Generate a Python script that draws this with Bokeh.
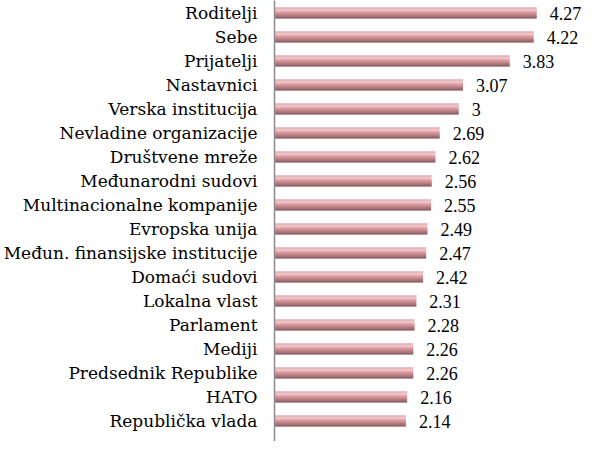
from bokeh.plotting import figure
from bokeh.models import ColumnDataSource, Range1d, LinearAxis, FixedTicker, LabelSet
from bokeh.transform import dodge
from bokeh.embed import file_html
from bokeh.resources import INLINE

categories = ["Roditelji", "Sebe", "Prijatelji", "Nastavnici", "Verska institucija",
              "Nevladine organizacije", "Društvene mreže", "Međunarodni sudovi",
              "Multinacionalne kompanije", "Evropska unija",
              "Međun. finansijske institucije", "Domaći sudovi", "Lokalna vlast",
              "Parlament", "Mediji", "Predsednik Republike", "HATO", "Republička vlada"]
values = [4.27, 4.22, 3.83, 3.07, 3.00, 2.69, 2.62, 2.56, 2.55, 2.49, 2.47, 2.42,
          2.31, 2.28, 2.26, 2.26, 2.16, 2.14]
value_labels = ["4.27", "4.22", "3.83", "3.07", "3", "2.69", "2.62", "2.56", "2.55",
                "2.49", "2.47", "2.42", "2.31", "2.28", "2.26", "2.26", "2.16", "2.14"]

n = len(categories)
ypos = [n - 1 - i for i in range(n)]

src = ColumnDataSource(dict(y=ypos, v=values, name=categories, lab=value_labels))

FONT = "DejaVu Serif"

# rows 24 px apart, first centre at canvas y=12.5 (pixel aligned stripes)
row_px = 24.0
y_top = 17 + 12.5 / row_px
y_bot = y_top - 441 / row_px

p = figure(width=588, height=441,
           x_range=Range1d(0, 316 / 61.8), y_range=Range1d(y_bot, y_top),
           x_axis_type=None, y_axis_type=None,
           min_border_left=272, min_border_right=0, min_border_top=0, min_border_bottom=0,
           toolbar_location=None, output_backend="svg")
p.outline_line_color = None
p.xgrid.visible = False
p.ygrid.visible = False
p.background_fill_color = "white"
p.border_fill_color = "white"

# gradient-like bar made of thin stripes (top to bottom)
stripe_colors = ["#cf858d", "#e6a8ac", "#efbcbd", "#e4a3a7", "#d68a91", "#c87980",
                 "#b8686f", "#a7585f", "#954950", "#7e3c43", "#693037"]
ns = len(stripe_colors)
sh = 1.0 / row_px
for k, c in enumerate(stripe_colors):
    off = ((ns - 1) / 2 - k) * sh
    p.hbar(y=dodge("y", off, range=p.y_range), left=0, right="v", height=sh * 1.02,
           source=src, fill_color=c, line_color=None)

yaxis = LinearAxis(ticker=FixedTicker(ticks=ypos),
                   major_label_overrides={y: c for y, c in zip(ypos, categories)})
yaxis.axis_line_color = "#8c8c8c"
yaxis.axis_line_width = 1.5
yaxis.major_tick_line_color = None
yaxis.minor_tick_line_color = None
yaxis.major_tick_out = 0
yaxis.major_tick_in = 0
yaxis.major_label_standoff = 17
yaxis.major_label_text_font = FONT
yaxis.major_label_text_font_size = "17px"
yaxis.major_label_text_color = "black"
p.add_layout(yaxis, "left")

labels = LabelSet(x="v", y="y", text="lab", source=src, x_offset=13,
                  text_baseline="middle", text_align="left",
                  text_font=FONT, text_font_size="18px",
                  text_color="black")
p.add_layout(labels)

open("out.html", "w").write(file_html(p, INLINE))
